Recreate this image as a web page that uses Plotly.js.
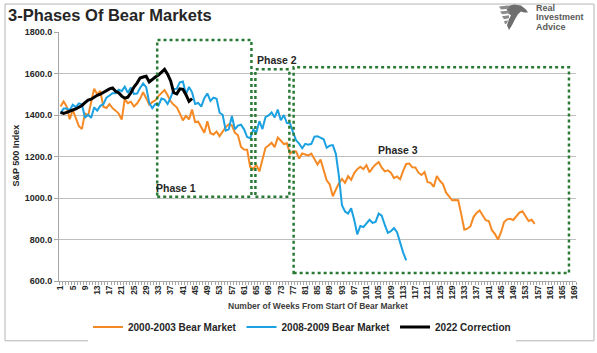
<!DOCTYPE html>
<html><head><meta charset="utf-8">
<script src="https://cdn.plot.ly/plotly-3.0.1.min.js"></script>
<style>html,body{margin:0;padding:0;background:#fff}#chart{width:597px;height:353px}</style>
</head><body><div id="chart"></div>
<script>
// ---- data ----
const tickWeeks = [1,5,9,13,17,21,25,29,33,37,41,45,49,53,57,61,65,69,73,77,81,85,89,93,97,101,105,109,113,117,121,125,129,133,137,141,145,149,153,157,161,165,169];
const tickLabels = ['1','5','9','13','17','21','25','29','33','37','41','45','49','53','57','61','65','69','73','77','81','85','89','93','97','101','105','109','113','117','121','125','129','133','137','141','145','149','153','157','161','165','169'];

const bear2000 = [
 1441,1465,1441,1380,1424,1387,1346,1333,1409,1395,1464,1527,1499,1516,1440,1434,1452,1433,1421,1407,
 1378,1477,1457,1464,1441,1455,1478,1510,1481,1450,1462,1471,1491,1506,1520,1495,1466,1449,1437,1408,
 1374,1396,1379,1426,1366,1368,1341,1315,1370,1312,1306,1320,
 1298,1318,1342,1355,1350,1315,1302,1246,1234,1233,1150,1139,1160,1128,1183,1242,1253,1266,1245,1291,
 1277,1260,1264,1214,1225,1224,1190,1215,1210,1205,1214,1190,1161,1185,1134,1085,1065,1008,1041,1071,
 1092,1073,1105,1087,1120,1139,1151,1139,1158,1124,1145,1162,
 1173,1146,1128,1133,1122,1096,1104,1090,1131,1164,1166,1148,1147,1122,1111,1125,1076,1073,1054,1106,
 1083,1067,1027,1007,989,990,989,921,847,852,864,908,928,940,916,893,889,845,827,800,
 835,884,897,900,894,910,930,936,912,889,895,875
];
const bear2008 = [
 1409,1431,1431,1423,1449,1438,1456,1451,1387,1402,1386,1437,1421,1444,1452,1484,1494,1505,1505,1522,
 1515,1536,1507,1532,1502,1503,1530,1552,1534,1458,1433,1453,1445,1479,1474,1453,1484,1525,1527,1557,
 1561,1501,1535,1509,1453,1458,1440,1481,1504,1468,1484,1478,
 1411,1401,1325,1331,1395,1331,1349,1353,1331,1294,1288,1330,1316,1370,1332,1390,1398,1413,1388,1426,
 1375,1400,1361,1360,1317,1278,1262,1240,1261,1257,1261,1296,1298,1292,1283,1242,1252,1255,1213,1105,
 965,935,925,950,895,825,865,860,880,895,880,885,
 925,915,870,832,840,855,835,780,737,699
];
const correction2022 = [
 1413,1408,1413,1417,1424,1429,1436,1446,1460,1472,1476,1486,1495,1500,1509,1514,1526,1530,1514,1507,
 1491,1481,1486,1507,1535,1554,1578,1583,1587,1559,1573,1583,1592,1604,1620,1597,1564,1508,1502,1526,
 1524,1498,1466,1479
];
const seriesNames = ['2000-2003 Bear Market','2008-2009 Bear Market','2022 Correction'];
const phaseLabels = ['Phase 1','Phase 2','Phase 3'];
const logoLines = ['Real','Investment','Advice'];

const weeksOf = arr => arr.map((_, i) => i + 1);

// ---- layout helpers ----
const W = 597, H = 353, L = 59, R = 576, T = 32, B = 286;
const px = X => (X - L) / (R - L);
const py = Y => (B - Y) / (B - T);
const P = pts => 'M' + pts.map(p => px(p[0]).toFixed(4) + ',' + py(p[1]).toFixed(4)).join(' L') + ' Z';

const FONT = 'Arial, "Liberation Sans", sans-serif';
const boxLine = {color: '#2A7A36', width: 2.5, dash: 'dot'};

const traces = [
  {x: weeksOf(bear2000), y: bear2000, name: seriesNames[0], type: 'scatter', mode: 'lines',
   line: {color: '#F58A24', width: 2}},
  {x: weeksOf(bear2008), y: bear2008, name: seriesNames[1], type: 'scatter', mode: 'lines',
   line: {color: '#1BA1E2', width: 2}},
  {x: weeksOf(correction2022), y: correction2022, name: seriesNames[2], type: 'scatter', mode: 'lines',
   line: {color: '#000000', width: 3}}
];

const logoAnn = logoLines.map((t, i) => ({
  text: '<b>' + t + '</b>', xref: 'paper', yref: 'paper', x: px(534), y: py(8 + i * 9.2),
  xanchor: 'left', yanchor: 'middle', showarrow: false,
  font: {family: FONT, size: 9, color: '#5A5A5A'}
}));

const layout = {
  width: W, height: H,
  margin: {l: L, r: W - R, t: T, b: H - B, pad: 0},
  paper_bgcolor: '#fff', plot_bgcolor: '#fff',
  font: {family: FONT, color: '#262626'},
  showlegend: true,
  legend: {orientation: 'h', x: 0.47, xanchor: 'center', y: -0.185, yanchor: 'middle',
           font: {family: FONT, size: 10, weight: 'bold', color: '#262626'},
           itemwidth: 30, tracegroupgap: 0},
  xaxis: {
    type: 'linear', range: [0.5, 169.5], tickmode: 'array', tickvals: tickWeeks, ticktext: tickLabels,
    tickangle: -90, ticks: '', showgrid: false, zeroline: false,
    showline: true, linecolor: '#A6A6A6', linewidth: 1,
    tickfont: {family: FONT, size: 8.5, weight: 'bold', color: '#262626'},
    minor: {tick0: 0.5, dtick: 1, ticks: 'outside', ticklen: 3, tickcolor: '#A6A6A6', showgrid: false},
    fixedrange: true
  },
  yaxis: {
    range: [600, 1800], dtick: 200, tick0: 600, tickformat: '.1f',
    showgrid: true, gridcolor: '#BFBFBF', gridwidth: 1, zeroline: false,
    showline: true, linecolor: '#A6A6A6', linewidth: 1,
    ticks: 'outside', ticklen: 4, tickcolor: '#A6A6A6',
    tickfont: {family: FONT, size: 9, weight: 'bold', color: '#262626'},
    fixedrange: true
  },
  title: {text: '<b>3-Phases Of Bear Markets</b>', xref: 'container', yref: 'container',
          x: 8 / W, xanchor: 'left', y: 1 - 15 / H, yanchor: 'middle',
          font: {family: FONT, size: 16.5, color: '#262626'}},
  shapes: [
    {type: 'rect', xref: 'x', yref: 'y', x0: 32.6, x1: 63.4, y0: 1006, y1: 1762, line: boxLine},
    {type: 'rect', xref: 'x', yref: 'y', x0: 64.7, x1: 75.8, y0: 1006, y1: 1620, line: boxLine},
    {type: 'rect', xref: 'x', yref: 'y', x0: 77.2, x1: 167.2, y0: 638, y1: 1630, line: boxLine},
    // outer frame
    {type: 'rect', xref: 'paper', yref: 'paper', x0: px(5), x1: px(594), y0: py(347), y1: py(3.5),
     line: {color: '#B4B4B4', width: 1}},
    // logo (stylised eagle)
    {type: 'path', xref: 'paper', yref: 'paper', fillcolor: '#6E6E6E', line: {width: 0},
     path: P([[506,6],[514,4],[521,5],[526,9],[528,12],[524,12],[521,11],[518,14],[515,19],[512,25],[509,30],[507,25],[509,19],[511,15],[508,13]])},
    {type: 'path', xref: 'paper', yref: 'paper', fillcolor: '#8C8C8C', line: {width: 0},
     path: P([[499,6],[508,5],[510,8],[501,9]])},
    {type: 'path', xref: 'paper', yref: 'paper', fillcolor: '#8C8C8C', line: {width: 0},
     path: P([[500,11],[509,10],[510,13],[502,14]])},
    {type: 'path', xref: 'paper', yref: 'paper', fillcolor: '#8C8C8C', line: {width: 0},
     path: P([[502,16],[509,15],[509,18],[504,19]])},
    {type: 'path', xref: 'paper', yref: 'paper', fillcolor: '#8C8C8C', line: {width: 0},
     path: P([[504,21],[508,20],[507,23],[505,24]])}
  ],
  annotations: [
    {text: '<b>' + phaseLabels[0] + '</b>', x: 38.8, y: 1050, xref: 'x', yref: 'y', showarrow: false,
     font: {family: FONT, size: 10.5, color: '#262626'}},
    {text: '<b>' + phaseLabels[1] + '</b>', x: 71.6, y: 1663, xref: 'x', yref: 'y', showarrow: false,
     font: {family: FONT, size: 10.5, color: '#262626'}},
    {text: '<b>' + phaseLabels[2] + '</b>', x: 111.2, y: 1233, xref: 'x', yref: 'y', showarrow: false,
     font: {family: FONT, size: 10.5, color: '#262626'}},
    {text: '<b>Number of Weeks From Start Of Bear Market</b>', xref: 'paper', yref: 'paper',
     x: px(318), y: py(311), xanchor: 'center', yanchor: 'middle', showarrow: false,
     font: {family: FONT, size: 8.5, color: '#404040'}},
    {text: '<b>S&P 500 Index</b>', xref: 'paper', yref: 'paper', textangle: -90,
     x: px(16), y: py(158), xanchor: 'center', yanchor: 'middle', showarrow: false,
     font: {family: FONT, size: 9, color: '#262626'}}
  ].concat(logoAnn)
};

Plotly.newPlot('chart', traces, layout, {displayModeBar: false, staticPlot: true});
</script>
</body></html>
